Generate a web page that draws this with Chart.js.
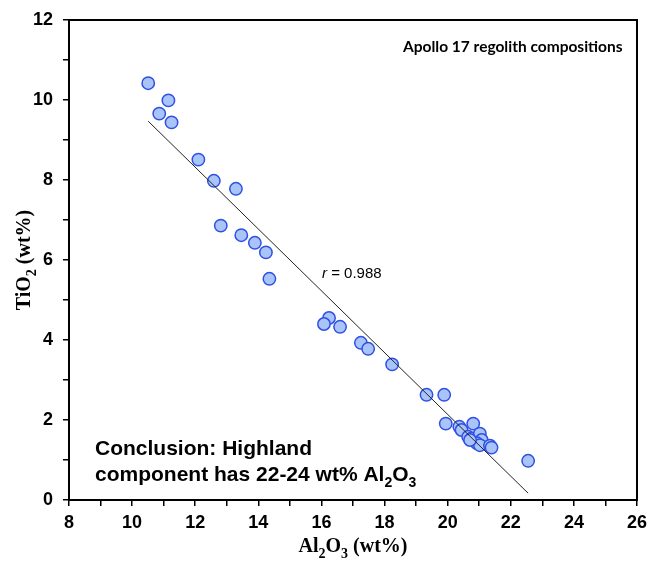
<!DOCTYPE html>
<html>
<head>
<meta charset="utf-8">
<script src="https://cdn.jsdelivr.net/npm/chart.js@4"></script>
<style>
  html, body { margin: 0; padding: 0; background: #fff; }
  #wrap { width: 649px; height: 562px; }
</style>
</head>
<body>
<div id="wrap"><canvas id="chart" width="649" height="562"></canvas></div>
<script>
// Al2O3 (x) and TiO2 (y), wt%
const al2o3 = [10.51, 11.15, 10.86, 11.25, 12.10, 12.59, 13.29, 12.81, 13.46, 13.89, 14.24, 14.35,
  16.24, 16.08, 16.59, 17.25, 17.48, 18.24, 19.33, 19.89, 19.94, 20.37, 20.44, 20.81, 20.65,
  20.76, 21.02, 21.08, 20.92, 21.02, 21.34, 21.39, 20.71, 22.55];
const tio2 = [10.42, 9.99, 9.66, 9.44, 8.51, 7.98, 7.78, 6.86, 6.62, 6.43, 6.19, 5.53,
  4.55, 4.40, 4.33, 3.93, 3.78, 3.39, 2.63, 2.63, 1.91, 1.83, 1.75, 1.91, 1.58,
  1.54, 1.66, 1.50, 1.42, 1.37, 1.36, 1.31, 1.50, 0.98];
// fitted line end points
const fitX = [10.51, 22.55];
const fitY = [9.47, 0.17];

const xTicks = [8, 10, 12, 14, 16, 18, 20, 22, 24, 26];
const yTicks = [0, 2, 4, 6, 8, 10, 12];

const points = al2o3.map((x, i) => ({ x, y: tio2[i] }));
const fitLine = fitX.map((x, i) => ({ x, y: fitY[i] }));

// text with subscripts, parts alternate normal / sub
function drawSub(ctx, parts, x, y, size, family, weight, align) {
  const subSize = Math.round(size * 0.68);
  const fontN = `${weight} ${size}px ${family}`;
  const fontS = `${weight} ${subSize}px ${family}`;
  let total = 0;
  parts.forEach((p, i) => {
    ctx.font = i % 2 ? fontS : fontN;
    total += ctx.measureText(p).width;
  });
  let cx = align === 'center' ? x - total / 2 : x;
  ctx.textAlign = 'left';
  ctx.textBaseline = 'alphabetic';
  parts.forEach((p, i) => {
    ctx.font = i % 2 ? fontS : fontN;
    ctx.fillText(p, cx, i % 2 ? y + size * 0.28 : y);
    cx += ctx.measureText(p).width;
  });
}

const annotations = {
  id: 'annotations',
  afterDraw(chart) {
    const { ctx, chartArea } = chart;
    ctx.save();
    // frame
    ctx.strokeStyle = '#000';
    ctx.lineWidth = 2;
    ctx.strokeRect(chartArea.left, chartArea.top, chartArea.right - chartArea.left, chartArea.bottom - chartArea.top);

    ctx.fillStyle = '#000';
    ctx.font = 'bold 15.5px Lato, "Open Sans", sans-serif';
    ctx.textAlign = 'left';
    ctx.textBaseline = 'alphabetic';
    ctx.fillText('Apollo 17 regolith compositions', 403, 52);

    // r value
    ctx.font = 'italic 15px "Liberation Sans", Arial, sans-serif';
    ctx.fillText('r', 322, 278);
    const rw = ctx.measureText('r ').width;
    ctx.font = '15px "Liberation Sans", Arial, sans-serif';
    ctx.fillText('= 0.988', 322 + rw, 278);

    // conclusion
    ctx.font = 'bold 21px "Liberation Sans", Arial, sans-serif';
    ctx.fillText('Conclusion: Highland', 95, 455);
    drawSub(ctx, ['component has 22-24 wt% Al', '2', 'O', '3', ''], 95, 481, 21,
      '"Liberation Sans", Arial, sans-serif', 'bold', 'left');

    // axis titles
    drawSub(ctx, ['Al', '2', 'O', '3', ' (wt%)'], 353, 552, 20,
      '"Liberation Serif", "Times New Roman", serif', 'bold', 'center');
    ctx.save();
    ctx.translate(30, 260);
    ctx.rotate(-Math.PI / 2);
    drawSub(ctx, ['TiO', '2', ' (wt%)', '', ''], 0, 0, 20,
      '"Liberation Serif", "Times New Roman", serif', 'bold', 'center');
    ctx.restore();
    ctx.restore();
  }
};

const tickFont = { family: '"Liberation Sans", Arial, sans-serif', size: 18, weight: 'bold' };

new Chart(document.getElementById('chart').getContext('2d'), { // eslint-disable-line no-new
  type: 'scatter',
  data: {
    datasets: [
      {
        data: points,
        backgroundColor: '#a9c4f8',
        borderColor: '#3050e4',
        borderWidth: 1.5,
        pointRadius: 6.2,
        order: 2,
      },
      {
        type: 'line',
        data: fitLine,
        borderColor: '#222',
        borderWidth: 1,
        pointRadius: 0,
        fill: false,
        order: 1,
      },
    ],
  },
  options: {
    responsive: false,
    animation: false,
    layout: { padding: { top: 20, right: 12, left: 0, bottom: 0 } },
    plugins: { legend: { display: false }, tooltip: { enabled: false } },
    scales: {
      x: {
        type: 'linear',
        min: 8,
        max: 26,
        afterFit: (s) => { s.height = 62; s.paddingLeft = 0; s.paddingRight = 0; },
        ticks: {
          stepSize: 1,
          autoSkip: false,
          maxRotation: 0,
          padding: 6,
          color: '#000',
          font: tickFont,
          callback: (v) => (xTicks.includes(v) ? v : ''),
        },
        grid: { drawOnChartArea: false, drawTicks: true, tickLength: 6, color: '#000', lineWidth: 1.5 },
        border: { display: true, color: '#000', width: 2 },
      },
      y: {
        type: 'linear',
        min: 0,
        max: 12,
        afterFit: (s) => { s.width = 69; s.paddingTop = 0; s.paddingBottom = 0; },
        ticks: {
          stepSize: 1,
          autoSkip: false,
          padding: 10,
          color: '#000',
          font: tickFont,
          callback: (v) => (yTicks.includes(v) ? v : ''),
        },
        grid: { drawOnChartArea: false, drawTicks: true, tickLength: 6, color: '#000', lineWidth: 1.5 },
        border: { display: true, color: '#000', width: 2 },
      },
    },
  },
  plugins: [annotations],
});
</script>
</body>
</html>
